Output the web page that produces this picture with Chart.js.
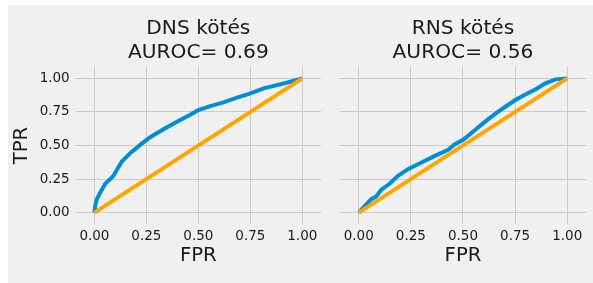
<!DOCTYPE html>
<html lang="hu">
<head>
  <meta charset="UTF-8">
  <title>ROC görbék</title>
  <script src="https://cdn.jsdelivr.net/npm/chart.js"></script>
  <style>
    body { margin: 0; background: #fff; }
    #fig { position: absolute; left: 8px; top: 5px; width: 585px; height: 278px; background: #f0f0f0; }
    canvas { position: absolute; top: 0; }
    #dnsChart { left: 0; }
    #rnsChart { left: 322px; }
  </style>
</head>
<body>
  <div id="fig">
    <canvas id="dnsChart" width="322" height="278"></canvas>
    <canvas id="rnsChart" width="263" height="278"></canvas>
  </div>

  <script>
    // values
    const tickValues = [0, 0.25, 0.5, 0.75, 1];
    const diagonal = [0, 1];

    const dnsFpr = [0, 0.004, 0.011, 0.027, 0.052, 0.076, 0.092, 0.108, 0.132, 0.172, 0.22, 0.268, 0.332, 0.397, 0.461, 0.5, 0.557, 0.621, 0.686, 0.751, 0.814, 0.878, 0.942, 1.0];
    const dnsTpr = [0, 0.05, 0.097, 0.146, 0.215, 0.25, 0.275, 0.319, 0.381, 0.443, 0.505, 0.562, 0.621, 0.678, 0.73, 0.765, 0.794, 0.822, 0.857, 0.889, 0.926, 0.95, 0.975, 1.0];

    const rnsFpr = [0, 0.027, 0.06, 0.084, 0.108, 0.148, 0.188, 0.236, 0.301, 0.365, 0.429, 0.461, 0.501, 0.558, 0.606, 0.662, 0.703, 0.751, 0.799, 0.847, 0.895, 0.944, 1.0];
    const rnsTpr = [0, 0.047, 0.10, 0.121, 0.171, 0.215, 0.275, 0.324, 0.373, 0.423, 0.468, 0.51, 0.542, 0.616, 0.678, 0.745, 0.789, 0.839, 0.881, 0.918, 0.963, 0.993, 1.0];

    const titles = {
      dns: ['DNS kötés', 'AUROC= 0.69'],
      rns: ['RNS kötés', 'AUROC= 0.56']
    };

    const font = 'DejaVu Sans';
    const textColor = '#1a1a1a';
    const gridColor = '#cbcbcb';

    function toPoints(xs, ys) {
      return xs.map((x, i) => ({ x: x, y: ys[i] }));
    }

    function makeChart(id, fpr, tpr, title, showY, yWidth, padRight) {
      const ctx = document.getElementById(id).getContext('2d');
      return new Chart(ctx, {
        type: 'scatter',
        data: {
          datasets: [{
            data: toPoints(fpr, tpr),
            showLine: true,
            borderColor: '#008fd5',
            borderWidth: 4,
            pointRadius: 0,
            order: 1
          }, {
            data: toPoints(diagonal, diagonal),
            showLine: true,
            borderColor: '#ffa500',
            borderWidth: 4,
            pointRadius: 0,
            order: 0
          }]
        },
        options: {
          responsive: false,
          animation: false,
          layout: { padding: { left: 0, right: padRight, top: 0, bottom: 0 } },
          plugins: {
            legend: { display: false },
            tooltip: { enabled: false },
            title: {
              display: true,
              fullSize: false,
              text: title,
              color: textColor,
              font: { family: font, size: 20.2, weight: 'normal', lineHeight: 1.17 },
              padding: { top: 12, bottom: 2.5 }
            }
          },
          scales: {
            x: {
              type: 'linear',
              min: -0.09,
              max: 1.09,
              afterBuildTicks: s => { s.ticks = tickValues.map(v => ({ value: v })); },
              afterFit: s => { s.height = 58.7; },
              ticks: {
                color: textColor,
                padding: 4,
                font: { family: font, size: 13.5 },
                callback: v => v.toFixed(2)
              },
              grid: { color: gridColor, lineWidth: 1, drawTicks: false },
              border: { display: false },
              title: {
                display: true,
                text: 'FPR',
                color: textColor,
                font: { family: font, size: 19.7, lineHeight: 1.2 },
                padding: { top: 0, bottom: 15 }
              }
            },
            y: {
              type: 'linear',
              min: -0.087,
              max: 1.087,
              afterBuildTicks: s => { s.ticks = tickValues.map(v => ({ value: v })); },
              afterFit: s => { s.width = yWidth; },
              ticks: {
                display: showY,
                color: textColor,
                padding: 6,
                font: { family: font, size: 13.5 },
                callback: v => v.toFixed(2)
              },
              grid: { color: gridColor, lineWidth: 1, drawTicks: false },
              border: { display: false },
              title: {
                display: showY,
                text: 'TPR',
                color: textColor,
                font: { family: font, size: 19.7, lineHeight: 1.2 },
                padding: { top: 2, bottom: 0 }
              }
            }
          }
        }
      });
    }

    makeChart('dnsChart', dnsFpr, dnsTpr, titles.dns, true, 67.7, 9);
    makeChart('rnsChart', rnsFpr, rnsTpr, titles.rns, false, 10, 7);
  </script>
</body>
</html>
